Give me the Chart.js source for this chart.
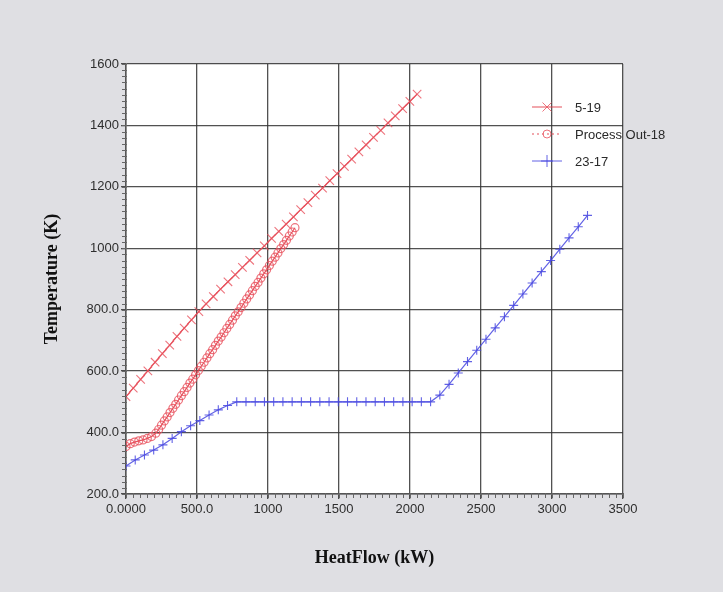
<!DOCTYPE html>
<html lang="en">
<head>
    <meta charset="UTF-8">
    <title>HeatFlow vs Temperature</title>
    <script src="https://cdn.jsdelivr.net/npm/chart.js"></script>
    <style>
        html, body { margin: 0; padding: 0; background: #dfdfe3; }
        #wrap { width: 723px; height: 592px; }
    </style>
</head>
<body>
    <div id="wrap">
        <canvas id="heatChart" width="723" height="592"></canvas>
    </div>

    <script>
        // Tick values and the labels printed on them
        const xTickValues = [0, 500, 1000, 1500, 2000, 2500, 3000, 3500];
        const xTickLabels = ['0.0000', '500.0', '1000', '1500', '2000', '2500', '3000', '3500'];
        const yTickValues = [200, 400, 600, 800, 1000, 1200, 1400, 1600];
        const yTickLabels = ['200.0', '400.0', '600.0', '800.0', '1000', '1200', '1400', '1600'];

        const seriesNames = ['5-19', 'Process Out-18', '23-17'];

        // 5-19
        const heat519 = [0, 51, 103, 154, 205, 256, 308, 359, 410, 461, 513, 564, 615, 666, 718, 769, 820, 871, 923, 974,
            1025, 1076, 1128, 1179, 1230, 1281, 1333, 1384, 1435, 1486, 1538, 1589, 1640, 1691, 1743, 1794, 1845, 1896, 1948, 1999, 2050];
        const temp519 = [517, 545, 573, 601, 629, 657, 685, 713, 740, 767, 794, 819, 843, 867, 891, 914, 938, 961, 985, 1008,
            1032, 1055, 1079, 1102, 1126, 1149, 1173, 1196, 1220, 1243, 1267, 1290, 1314, 1337, 1361, 1384, 1408, 1431, 1455, 1478, 1502];

        // Process Out-18
        const heatOut = [0, 30, 60, 90, 120, 150, 180, 210,
            230, 250, 270, 290, 310, 330, 350, 370, 390, 410, 430, 450, 470, 490, 510, 530, 550, 570, 590, 610, 630, 650,
            670, 690, 710, 730, 750, 770, 790, 810, 830, 850, 870, 890, 910, 930, 950, 970, 990, 1010, 1030, 1050,
            1070, 1090, 1110, 1130, 1150, 1170, 1190];
        const tempOut = [355, 364, 369, 373, 376, 381, 387, 398,
            410, 424, 438, 451, 465, 479, 492, 506, 520, 533, 547, 561, 574, 588, 602, 616, 629, 643, 657, 670,
            684, 698, 711, 725, 739, 752, 766, 780, 793, 807, 821, 835, 848, 862, 876, 889, 903, 917, 930, 944,
            958, 971, 985, 999, 1012, 1026, 1040, 1053, 1067];

        // 23-17
        const heat2317 = [0, 65, 130, 195, 260, 325, 390, 455, 520, 585, 650, 715, 780, 845, 910, 975, 1040, 1105, 1170, 1235,
            1300, 1365, 1430, 1495, 1560, 1625, 1690, 1755, 1820, 1885, 1950, 2015, 2080, 2145, 2210, 2275, 2340, 2405,
            2470, 2535, 2600, 2665, 2730, 2795, 2860, 2925, 2990, 3055, 3120, 3185, 3250];
        const temp2317 = [291, 311, 327, 343, 360, 381, 403, 422, 439, 457, 474, 488, 500,
            500, 500, 500, 500, 500, 500, 500, 500, 500, 500, 500, 500, 500, 500, 500, 500, 500, 500, 500, 500, 500,
            522, 557, 594, 631, 668, 704, 741, 777, 814, 851, 887, 924, 960, 997, 1034, 1070, 1107];

        const toPoints = (xs, ys) => xs.map((x, i) => ({ x: x, y: ys[i] }));

        const red = 'rgba(225, 60, 72, 0.9)';
        const redLight = 'rgba(232, 80, 92, 0.8)';
        const blue = 'rgba(70, 70, 225, 0.85)';

        // grey page, white plot area
        const backgroundPlugin = {
            id: 'bg',
            beforeDraw(chart) {
                const { ctx, chartArea: a } = chart;
                ctx.save();
                ctx.fillStyle = '#dfdfe3';
                ctx.fillRect(0, 0, chart.width, chart.height);
                ctx.fillStyle = '#ffffff';
                ctx.fillRect(a.left, a.top, a.right - a.left, a.bottom - a.top);
                ctx.restore();
            }
        };

        // small ticks between the labelled ones
        const minorTicksPlugin = {
            id: 'minorTicks',
            afterDraw(chart) {
                const { ctx, chartArea: a } = chart;
                const xs = chart.scales.x, ys = chart.scales.y;
                ctx.save();
                ctx.strokeStyle = '#666';
                ctx.lineWidth = 1;
                ctx.beginPath();
                for (let v = 0; v <= 3500; v += 50) {
                    const px = Math.round(xs.getPixelForValue(v)) + 0.5;
                    ctx.moveTo(px, a.bottom - 1);
                    ctx.lineTo(px, a.bottom + 4);
                }
                for (let v = 200; v <= 1600; v += 20) {
                    const py = Math.round(ys.getPixelForValue(v)) + 0.5;
                    ctx.moveTo(a.left - 4, py);
                    ctx.lineTo(a.left + 1, py);
                }
                ctx.stroke();
                ctx.restore();
            }
        };

        function drawMarker(ctx, style, x, y, r) {
            ctx.beginPath();
            if (style === 'circle') {
                ctx.arc(x, y, r, 0, Math.PI * 2);
            } else if (style === 'cross') {
                ctx.moveTo(x - r, y); ctx.lineTo(x + r, y);
                ctx.moveTo(x, y - r); ctx.lineTo(x, y + r);
            } else {
                const d = r * 0.75;
                ctx.moveTo(x - d, y - d); ctx.lineTo(x + d, y + d);
                ctx.moveTo(x - d, y + d); ctx.lineTo(x + d, y - d);
            }
            ctx.stroke();
        }

        // legend sits inside the plot at the upper right
        const legendPlugin = {
            id: 'sideLegend',
            afterDraw(chart) {
                const { ctx } = chart;
                const rows = [107, 134, 161];
                ctx.save();
                chart.data.datasets.forEach((ds, i) => {
                    const y = rows[i];
                    ctx.strokeStyle = ds.borderColor;
                    ctx.lineWidth = 1;
                    if (i === 1) ctx.setLineDash([2, 3]);
                    ctx.beginPath();
                    ctx.moveTo(532, y); ctx.lineTo(562, y);
                    ctx.stroke();
                    ctx.setLineDash([]);
                    ctx.strokeStyle = ds.pointBorderColor;
                    drawMarker(ctx, ds.pointStyle, 547, y, i === 1 ? 4 : 6);
                    ctx.fillStyle = '#2a2a2a';
                    ctx.font = '13px "Liberation Sans", Arial, sans-serif';
                    ctx.textBaseline = 'middle';
                    ctx.fillText(ds.label, 575, y + 1);
                });
                ctx.restore();
            }
        };

        new Chart(document.getElementById('heatChart'), {
            type: 'scatter',
            data: {
                datasets: [{
                    label: seriesNames[0],
                    data: toPoints(heat519, temp519),
                    showLine: true,
                    borderColor: red,
                    borderWidth: 1.2,
                    pointStyle: 'crossRot',
                    pointRadius: 6,
                    pointBorderColor: redLight,
                    pointBorderWidth: 1.1,
                    pointBackgroundColor: 'rgba(0,0,0,0)'
                }, {
                    label: seriesNames[1],
                    data: toPoints(heatOut, tempOut),
                    showLine: true,
                    borderColor: red,
                    borderWidth: 1.2,
                    pointStyle: 'circle',
                    pointRadius: 4,
                    pointBorderColor: redLight,
                    pointBorderWidth: 1.2,
                    pointBackgroundColor: 'rgba(0,0,0,0)'
                }, {
                    label: seriesNames[2],
                    data: toPoints(heat2317, temp2317),
                    showLine: true,
                    borderColor: blue,
                    borderWidth: 1.2,
                    pointStyle: 'cross',
                    pointRadius: 4.5,
                    pointBorderColor: blue,
                    pointBorderWidth: 1.1,
                    pointBackgroundColor: 'rgba(0,0,0,0)'
                }]
            },
            options: {
                responsive: false,
                animation: false,
                devicePixelRatio: 1,
                layout: { padding: { top: 64, right: 100, left: 0, bottom: 0 } },
                plugins: {
                    legend: { display: false },
                    tooltip: { enabled: false }
                },
                scales: {
                    x: {
                        type: 'linear',
                        min: 0,
                        max: 3500,
                        afterBuildTicks: (scale) => { scale.ticks = xTickValues.map(v => ({ value: v })); },
                        afterFit: (scale) => { scale.height = 98; },
                        grid: { color: 'rgba(50,50,50,0.85)', lineWidth: 1.3, tickLength: 5 },
                        border: { color: '#555', width: 1.5 },
                        ticks: {
                            autoSkip: false,
                            maxRotation: 0,
                            padding: 3,
                            color: '#2e2e2e',
                            font: { family: '"Liberation Sans", Arial, sans-serif', size: 13 },
                            callback: (v) => xTickLabels[xTickValues.indexOf(v)]
                        },
                        title: {
                            display: true,
                            text: 'HeatFlow (kW)',
                            color: '#111',
                            font: { family: '"Liberation Serif", "Times New Roman", serif', size: 18, weight: 'bold' },
                            padding: { top: 0, bottom: 23 }
                        }
                    },
                    y: {
                        type: 'linear',
                        min: 200,
                        max: 1600,
                        afterBuildTicks: (scale) => { scale.ticks = yTickValues.map(v => ({ value: v })); },
                        afterFit: (scale) => { scale.width = 126; },
                        grid: { color: 'rgba(50,50,50,0.85)', lineWidth: 1.3, tickLength: 5 },
                        border: { color: '#555', width: 1.5 },
                        ticks: {
                            autoSkip: false,
                            padding: 2,
                            color: '#2e2e2e',
                            font: { family: '"Liberation Sans", Arial, sans-serif', size: 13 },
                            callback: (v) => yTickLabels[yTickValues.indexOf(v)]
                        },
                        title: {
                            display: true,
                            text: 'Temperature (K)',
                            color: '#111',
                            font: { family: '"Liberation Serif", "Times New Roman", serif', size: 18, weight: 'bold' },
                            padding: { top: 42, bottom: 0 }
                        }
                    }
                }
            },
            plugins: [backgroundPlugin, minorTicksPlugin, legendPlugin]
        });
    </script>
</body>
</html>
